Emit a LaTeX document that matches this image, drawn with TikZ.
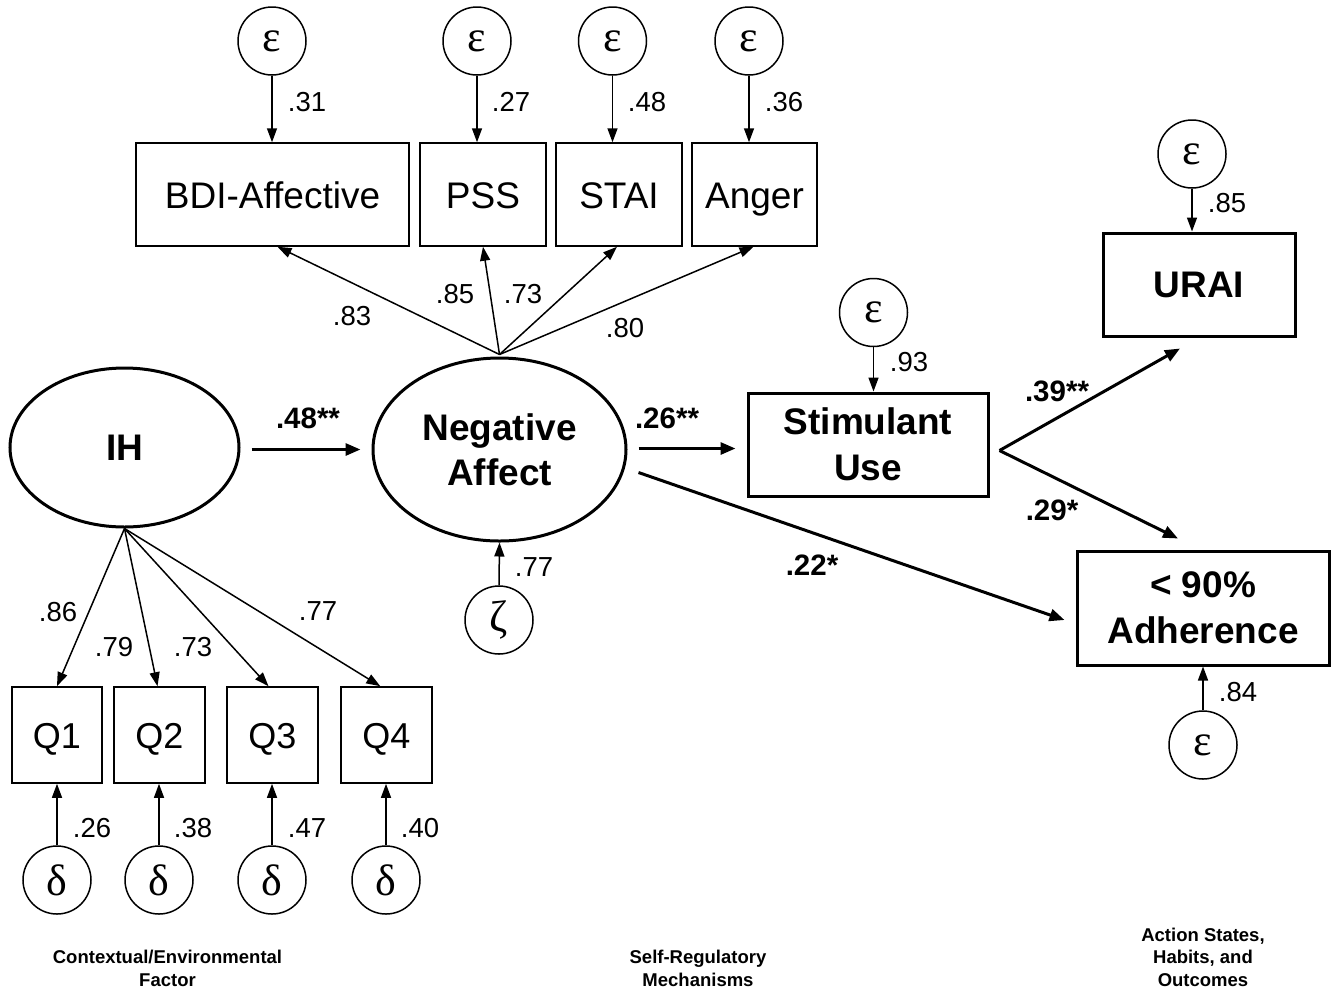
\documentclass[tikz,border=0pt]{standalone}
\usepackage{fontspec}
\setmainfont{Liberation Sans}
\newfontfamily\grk{Liberation Serif}
\usetikzlibrary{arrows.meta,shapes.geometric,calc}
\begin{document}
\begin{tikzpicture}[x=1pt,y=-1pt,
  thinbox/.style={draw,line width=1.5pt,inner sep=0pt,text height=27pt,text depth=0pt,font=\fontsize{37}{40}\selectfont},
  qbox/.style={draw,line width=1.6pt,inner sep=0pt,minimum height=96pt,text height=26pt,text depth=0pt,font=\fontsize{36}{40}\selectfont},
  boldbox/.style={draw,line width=3pt,inner sep=0pt,align=center,font=\bfseries\fontsize{37}{46}\selectfont},
  latent/.style={ellipse,draw,line width=3pt,inner sep=0pt,align=center,font=\bfseries\fontsize{37}{45}\selectfont},
  errc/.style={ellipse,draw,line width=1.5pt,inner sep=0pt,minimum width=68pt,minimum height=68pt,font=\grk\fontsize{44}{44}\selectfont},
  epsc/.style={errc,text height=20pt,text depth=0pt},
  lbl/.style={inner sep=0pt,font=\fontsize{27.5}{30}\selectfont},
  blbl/.style={inner sep=0pt,font=\bfseries\fontsize{29.5}{32}\selectfont},
  grp/.style={inner sep=0pt,align=center,font=\bfseries\fontsize{18.5}{22.5}\selectfont},
  thinarr/.style={line width=1.5pt,-{Triangle[length=14pt,width=10pt]}},
  thickarr/.style={line width=3pt,-{Triangle[length=15pt,width=12pt]}}
]
\fill[white] (0,0) rectangle (1341,994);
\useasboundingbox (0,0) rectangle (1341,994);

% top indicators
\node[thinbox,minimum width=273pt,minimum height=103pt] (bdi) at (272.5,194.5) {BDI-Affective};
\node[thinbox,minimum width=126pt,minimum height=103pt] (pss) at (483,194.5) {PSS};
\node[thinbox,minimum width=126pt,minimum height=103pt] (stai) at (619,194.5) {STAI};
\node[thinbox,minimum width=125pt,minimum height=103pt] (anger) at (754.5,194.5) {Anger};

\node[epsc] (e1) at (272,41) {ε};
\node[epsc] (e2) at (477,41) {ε};
\node[epsc] (e3) at (612.5,41) {ε};
\node[epsc] (e4) at (749,41) {ε};

\draw[thinarr] (e1.south) -- (e1.south |- bdi.north);
\draw[thinarr] (e2.south) -- (e2.south |- pss.north);
\draw[thinarr] (e3.south) -- (e3.south |- stai.north);
\draw[thinarr] (e4.south) -- (e4.south |- anger.north);

\node[lbl] (l31) at (307,102) {.31};
\node[lbl] (l27) at (511,102) {.27};
\node[lbl] (l48) at (647,102) {.48};
\node[lbl] (l36) at (784,102) {.36};

% latent variables
\node[latent,minimum width=229pt,minimum height=159pt] (ih) at (124.5,447.5) {IH};
\node[latent,minimum width=253pt,minimum height=183pt] (na) at (499.5,449.5) {Negative\\Affect};

\coordinate (nafan) at ($(na.north)+(0,-2)$);
\draw[thinarr] (nafan) -- ($(bdi.south)+(5,0)$);
\draw[thinarr] (nafan) -- (pss.south);
\draw[thinarr] (nafan) -- ($(stai.south)+(-2,0)$);
\draw[thinarr] (nafan) -- ($(anger.south)+(-1,0)$);

\node[lbl] (l83) at (352,316) {.83};
\node[lbl] (l85) at (455,294) {.85};
\node[lbl] (l73a) at (523,294) {.73};
\node[lbl] (l80) at (625,328) {.80};

% zeta
\node[errc] (zeta) at (499,620) {ζ};
\draw[thinarr] (zeta.north) -- (na.south);
\node[lbl] (l77a) at (534,567) {.77};

% IH -> NA
\draw[thickarr] ($(ih.east)+(11,2)$) -- ($(na.west)+(-11,0)$);
\node[blbl] (b48) at (308,418) {.48**};

% stimulant
\node[boldbox,minimum width=240pt,minimum height=103pt] (stim) at (868,444.5) {Stimulant\\Use};
\node[epsc] (es) at (873.5,312.5) {ε};
\draw[thinarr] (es.south) -- (es.south |- stim.north);
\node[lbl] (l93) at (909,362) {.93};

\draw[thickarr] ($(na.east)+(11,-1)$) -- ($(stim.west)+(-11,4)$);
\node[blbl] (b26) at (667,418) {.26**};

% URAI
\node[boldbox,minimum width=192pt,minimum height=103pt] (urai) at (1199,284.5) {URAI};
\node[epsc] (eu) at (1192,154) {ε};
\draw[thinarr] (eu.south) -- (eu.south |- urai.north);
\node[lbl] (l85b) at (1227,203) {.85};

% Adherence
\node[boldbox,minimum width=252pt,minimum height=114pt] (adh) at (1203,608) {< 90\%\\Adherence};
\node[epsc] (ea) at (1203,745) {ε};
\draw[thinarr] (ea.north) -- (ea.north |- adh.south);
\node[lbl] (l84) at (1238,692) {.84};

\coordinate (sapex) at ($(stim.east)+(10,6)$);
\draw[thickarr] (sapex) -- ($(urai.south)+(-19,11)$);
\draw[thickarr] (sapex) -- ($(adh.north)+(-25,-11)$);
\node[blbl] (b39) at (1057,391) {.39**};
\node[blbl] (b29) at (1052,510) {.29*};

\draw[thickarr] ($(na.east)+(11,23)$) -- ($(adh.west)+(-11,12)$);
\node[blbl] (b22) at (812,565) {.22*};

% Q indicators
\node[qbox,minimum width=90pt] (q1) at (57,735) {Q1};
\node[qbox,minimum width=91pt] (q2) at (159.5,735) {Q2};
\node[qbox,minimum width=91pt] (q3) at (272.5,735) {Q3};
\node[qbox,minimum width=91pt] (q4) at (386.3,735) {Q4};

\draw[thinarr] (ih.south) -- (q1.north);
\draw[thinarr] (ih.south) -- ($(q2.north)+(-2,0)$);
\draw[thinarr] (ih.south) -- ($(q3.north)+(-4,0)$);
\draw[thinarr] (ih.south) -- ($(q4.north)+(-6,0)$);

\node[lbl] (l86) at (58,612) {.86};
\node[lbl] (l79) at (114,647) {.79};
\node[lbl] (l73b) at (193,647) {.73};
\node[lbl] (l77b) at (318,611) {.77};

\node[errc] (d1) at (57,880) {δ};
\node[errc] (d2) at (159,880) {δ};
\node[errc] (d3) at (272,880) {δ};
\node[errc] (d4) at (386,880) {δ};

\draw[thinarr] (d1.north) -- (d1.north |- q1.south);
\draw[thinarr] (d2.north) -- (d2.north |- q2.south);
\draw[thinarr] (d3.north) -- (d3.north |- q3.south);
\draw[thinarr] (d4.north) -- (d4.north |- q4.south);

\node[lbl] (l26) at (92,828) {.26};
\node[lbl] (l38) at (193,828) {.38};
\node[lbl] (l47) at (307,828) {.47};
\node[lbl] (l40) at (420,828) {.40};

% group captions
\node[grp] (g1) at (167.5,968.5) {Contextual/Environmental\\Factor};
\node[grp] (g2) at (698,968.5) {Self-Regulatory\\Mechanisms};
\node[grp] (g3) at (1203,957) {Action States,\\Habits, and\\Outcomes};
\end{tikzpicture}
\end{document}
